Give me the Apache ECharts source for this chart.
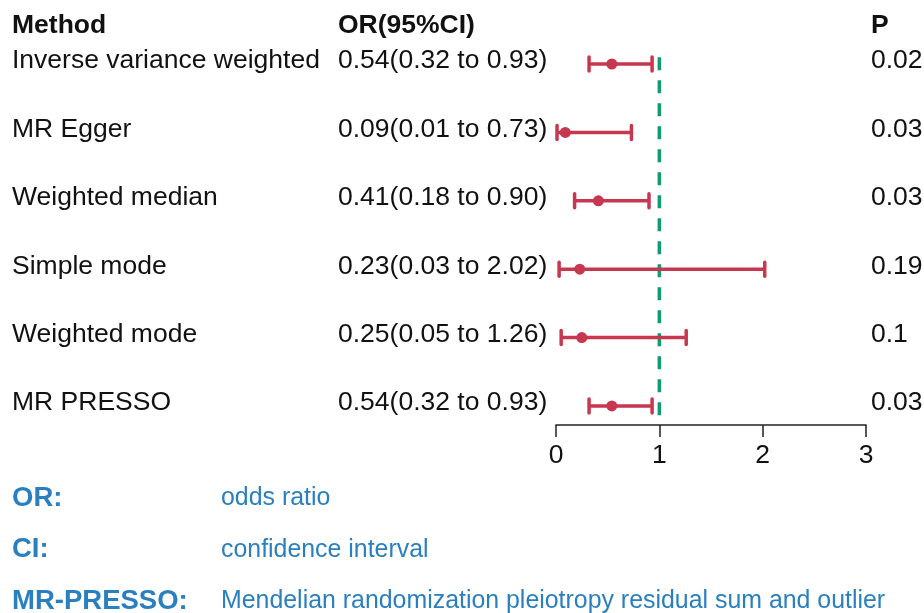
<!DOCTYPE html>
<html><head><meta charset="utf-8">
<script src="https://cdn.jsdelivr.net/npm/echarts@6/dist/echarts.min.js"></script>
<style>html,body{margin:0;padding:0;background:#fff}#c{width:924px;height:613px}</style>
</head><body><div id="c"></div>
<script>
const methods = ["Inverse variance weighted","MR Egger","Weighted median","Simple mode","Weighted mode","MR PRESSO"];
const orValues = [0.54,0.09,0.41,0.23,0.25,0.54];
const lower = [0.32,0.01,0.18,0.03,0.05,0.32];
const upper = [0.93,0.73,0.90,2.02,1.26,0.93];
const pValues = ["0.02","0.03","0.03","0.19","0.1","0.03"];
const xTicks = [0,1,2,3];
const headers = {method:"Method", or:"OR(95%CI)", p:"P"};
const notes = [["OR:","odds ratio"],["CI:","confidence interval"],["MR-PRESSO:","Mendelian randomization pleiotropy residual sum and outlier"]];

const fmt = v => v.toFixed(2);
const orText = orValues.map((v,i)=>fmt(v)+"("+fmt(lower[i])+" to "+fmt(upper[i])+")");
const FONT = "Liberation Sans";
const RED = "#c7374f", GREEN = "#0f9b74", BLUE = "#2a7fc0";
const rows = methods.map((m,i)=>[orValues[i], i+1, lower[i], upper[i], i]);
const txt = (text, size, bold, fill, extra) => Object.assign({text, fontFamily:FONT, fontSize:size, fontWeight:bold?'bold':'normal', fill}, extra||{});

const chart = echarts.init(document.getElementById('c'), null, {renderer:'canvas'});
chart.setOption({
  animation:false,
  grid:{left:556, right:58, top:29.8, height:395.2},
  xAxis:{type:'value', min:0, max:3, interval:1,
    axisLine:{show:true, onZero:false, lineStyle:{color:'#222', width:1.5}},
    axisTick:{show:true, length:12, lineStyle:{color:'#222', width:1.5}},
    axisLabel:{fontSize:26.5, color:'#111', fontFamily:FONT, margin:17,
      formatter: v => xTicks.includes(v) ? String(v) : ''},
    splitLine:{show:false}},
  yAxis:{type:'value', min:0.5, max:6.278, inverse:true, show:false},
  graphic:[
    {type:'text', left:12, top:12, style:txt(headers.method,26.5,true,'#111')},
    {type:'text', left:338, top:12, style:txt(headers.or,26.5,true,'#111')},
    {type:'text', left:871, top:12, style:txt(headers.p,26.5,true,'#111')},
    ...notes.flatMap((n,i)=>[
      {type:'text', left:12, top:484+i*51.5, style:txt(n[0],27.5,true,BLUE)},
      {type:'text', left:221, top:486+i*51.5, style:txt(n[1],24.9,false,BLUE)}
    ])
  ],
  series:[
    {type:'line', data:[[1,0.9],[1,6.278]], symbol:'none', silent:true, z:1,
      lineStyle:{color:GREEN, width:3.5, type:[13,10]}},
    {type:'custom', z:3, data:rows,
      renderItem:(params, api)=>{
        const y = api.value(1);
        const pc = api.coord([api.value(0), y]);
        const pl = api.coord([api.value(2), y]);
        const pu = api.coord([api.value(3), y]);
        const i = api.value(4);
        const h = 7;
        const ty = pc[1]-3;
        return {type:'group', children:[
          {type:'line', shape:{x1:pl[0],y1:pl[1],x2:pu[0],y2:pu[1]}, style:{stroke:RED, lineWidth:3.5}},
          {type:'line', shape:{x1:pl[0],y1:pl[1]-h,x2:pl[0],y2:pl[1]+h}, style:{stroke:RED, lineWidth:3.5, lineCap:'round'}},
          {type:'line', shape:{x1:pu[0],y1:pu[1]-h,x2:pu[0],y2:pu[1]+h}, style:{stroke:RED, lineWidth:3.5, lineCap:'round'}},
          {type:'circle', shape:{cx:pc[0], cy:pc[1], r:5.5}, style:{fill:RED}},
          {type:'text', x:12, y:ty, style:txt(methods[i],26.5,false,'#111',{verticalAlign:'middle'})},
          {type:'text', x:338, y:ty, style:txt(orText[i],26.5,false,'#111',{verticalAlign:'middle'})},
          {type:'text', x:871, y:ty, style:txt(pValues[i],26.5,false,'#111',{verticalAlign:'middle'})}
        ]};
      }}
  ]
});
</script></body></html>
